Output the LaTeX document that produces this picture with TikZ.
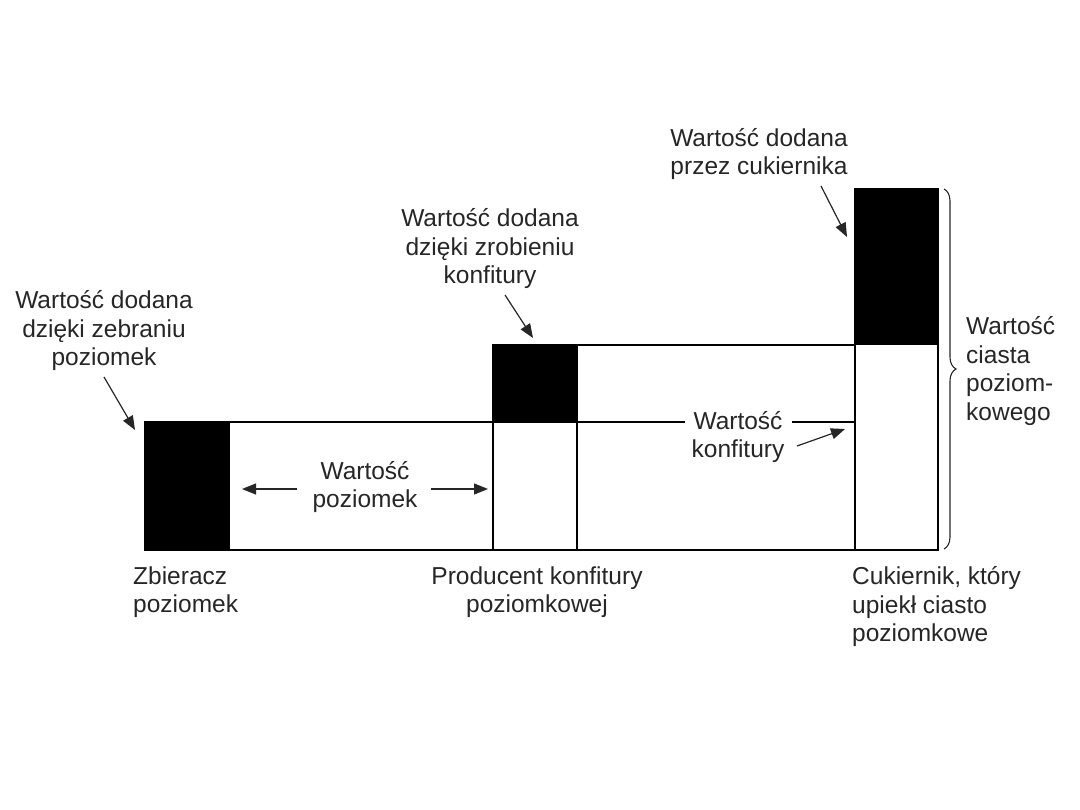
\documentclass[tikz,border=0pt]{standalone}
\usepackage{fontspec}
\setmainfont{Liberation Sans}
\usetikzlibrary{arrows.meta,decorations.pathreplacing}

\begin{document}
\begin{tikzpicture}[
    x=1pt, y=-1pt,
    every node/.style={font=\fontsize{24.5}{28.5}\selectfont, inner sep=0pt, text=black!85},
    lbl/.style={align=center},
    lbll/.style={align=left, anchor=west},
    bar/.style={draw, line width=1.6pt, fill=white},
    added/.style={bar, fill=black},
    pointer/.style={-{Triangle[length=14pt,width=11pt]}, line width=1.2pt, black!85},
  ]
  \useasboundingbox (0,0) rectangle (1080,810);
  % zbieracz
  \draw[bar] (229,422) rectangle (493,550);
  \draw[added] (145,422) rectangle (229,550);
  % producent konfitury
  \draw[bar] (577,345) rectangle (855,550);
  \draw[bar] (493,422) rectangle (577,550);
  \draw[added] (493,345) rectangle (577,422);
  % cukiernik
  \draw[bar] (855,344) rectangle (938,550);
  \draw[added] (855,189) rectangle (938,344);
  \draw[decorate, decoration={brace, amplitude=12pt}, line width=1.1pt, black!85]
    (944,189) -- (944,549);

  % labels
  \node[lbl] (dz) at (104,331) {Wartość dodana\\dzięki zebraniu\\poziomek};
  \node[lbl] (dk) at (490,249) {Wartość dodana\\dzięki zrobieniu\\konfitury};
  \node[lbl] (dc) at (759,154) {Wartość dodana\\przez cukiernika};
  \node[lbl] (wp) at (365,487) {Wartość\\poziomek};
  \node[lbl, fill=white, inner xsep=7pt] (wk) at (738,437) {Wartość\\konfitury};
  \node[lbll] (wc) at (966,371) {Wartość\\ciasta\\poziom-\\kowego};
  \node[lbll] (zb) at (133,592) {Zbieracz\\poziomek};
  \node[lbl] (pk) at (537,592) {Producent konfitury\\poziomkowej};
  \node[lbll] (ck) at (852,607) {Cukiernik, który\\upiekł ciasto\\poziomkowe};

  % konfitury level
  \draw[line width=1.6pt] (577,422) -- (wk.west |- 0,422);
  \draw[line width=1.6pt] (wk.east |- 0,422) -- (855,422);

  % pointers
  \coordinate (dz1) at (104,377);  \coordinate (dz2) at (135,430);
  \coordinate (dk1) at (505,295);  \coordinate (dk2) at (533,338);
  \coordinate (dc1) at (821,186);  \coordinate (dc2) at (847,237);
  \coordinate (wk1) at (797,446);  \coordinate (wk2) at (845,429);
  \draw[pointer] (dz1) -- (dz2);
  \draw[pointer] (dk1) -- (dk2);
  \draw[pointer] (dc1) -- (dc2);
  \draw[pointer] (wk1) -- (wk2);
  \draw[pointer] (wp.west |- 0,489) ++(-15,0) -- (242,489);
  \draw[pointer] (wp.east |- 0,489) ++(13,0) -- (488,489);
\end{tikzpicture}
\end{document}
